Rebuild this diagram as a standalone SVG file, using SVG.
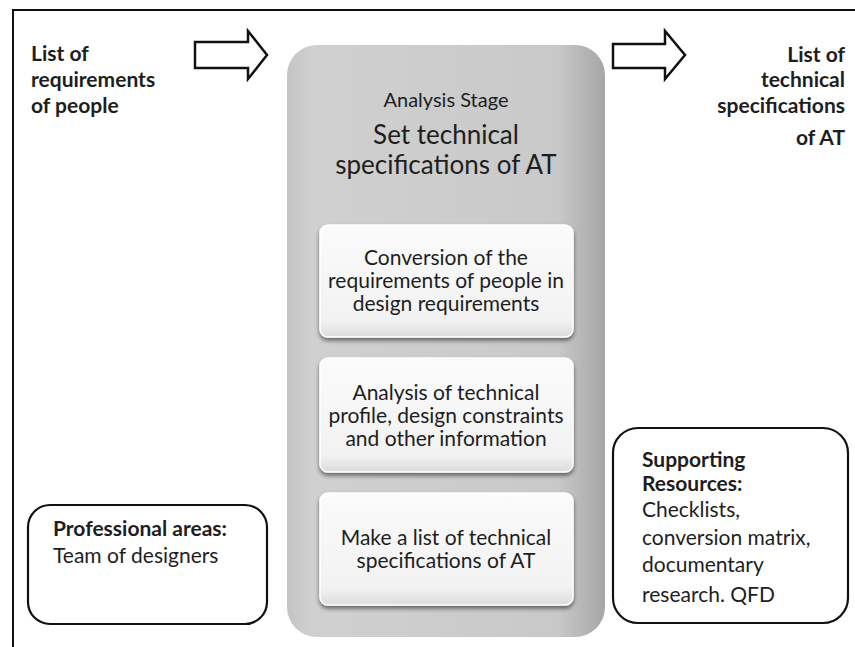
<svg xmlns="http://www.w3.org/2000/svg" width="855" height="647" viewBox="0 0 855 647">
<style>
  text { font-family: Lato, "Liberation Sans", sans-serif; fill: #1e1e1e; }
  .b { font-weight: bold; }
  .lbl { font-size: 21px; }
  .inner { font-size: 21px; text-anchor: middle; }
  .box { fill: #ffffff; stroke: #111; stroke-width: 2.2; }
  .arrow { fill: #ffffff; stroke: #111; stroke-width: 2.5; stroke-linejoin: miter; }
  .step { fill: url(#stepFill); stroke: #ffffff; stroke-width: 1.5; }
</style>
<defs>
  <linearGradient id="grayFill" x1="0" y1="0" x2="1" y2="0">
    <stop offset="0" stop-color="#c4c4c4"/>
    <stop offset="0.08" stop-color="#d0d0d0"/>
    <stop offset="0.85" stop-color="#c9c9c9"/>
    <stop offset="1" stop-color="#a6a6a6"/>
  </linearGradient>
  <linearGradient id="stepFill" x1="0" y1="0" x2="0" y2="1">
    <stop offset="0" stop-color="#fbfbfb"/>
    <stop offset="0.85" stop-color="#f2f2f2"/>
    <stop offset="1" stop-color="#dcdcdc"/>
  </linearGradient>
  <filter id="sh" x="-10%" y="-10%" width="120%" height="130%">
    <feGaussianBlur in="SourceAlpha" stdDeviation="2"/>
    <feOffset dx="0" dy="3" result="o"/>
    <feComponentTransfer><feFuncA type="linear" slope="0.5"/></feComponentTransfer>
    <feMerge><feMergeNode/><feMergeNode in="SourceGraphic"/></feMerge>
  </filter>
</defs>
<rect width="855" height="647" fill="#ffffff"/>
<g id="frame">
  <line x1="13" y1="10" x2="855" y2="10" stroke="#111" stroke-width="2"/>
  <line x1="13" y1="9" x2="13" y2="647" stroke="#111" stroke-width="2"/>
</g>
<g id="input-list">
  <text class="lbl b" x="31" y="61">List of</text>
  <text class="lbl b" x="31" y="87">requirements</text>
  <text class="lbl b" x="31" y="113">of people</text>
</g>
<g id="output-list">
  <text class="lbl b" x="845" y="62" text-anchor="end">List of</text>
  <text class="lbl b" x="845" y="87" text-anchor="end">technical</text>
  <text class="lbl b" x="845" y="113" text-anchor="end">specifications</text>
  <text class="lbl b" x="845" y="145" text-anchor="end">of AT</text>
</g>
<g id="connectors">
  <polygon class="arrow" points="195,42 248,42 248,31 267,55 248,79 248,68 195,68"/>
  <polygon class="arrow" points="613,44 665,44 665,31 685,55 665,79 665,68 613,68"/>
</g>
<g id="analysis-stage">
  <rect x="287" y="45" width="318" height="592" rx="30" fill="url(#grayFill)"/>
  <text x="446" y="107" font-size="20" text-anchor="middle">Analysis Stage</text>
  <text x="446" y="144" font-size="26" text-anchor="middle">Set technical</text>
  <text x="446" y="174" font-size="26" text-anchor="middle">specifications of AT</text>
</g>
<g id="step1">
  <rect class="step" x="320" y="225" width="253" height="112" rx="8" filter="url(#sh)"/>
  <text class="inner" x="446" y="265">Conversion of the</text>
  <text class="inner" x="446" y="288">requirements of people in</text>
  <text class="inner" x="446" y="311">design requirements</text>
</g>
<g id="step2">
  <rect class="step" x="320" y="358" width="253" height="114" rx="8" filter="url(#sh)"/>
  <text class="inner" x="446" y="400">Analysis of technical</text>
  <text class="inner" x="446" y="423">profile, design constraints</text>
  <text class="inner" x="446" y="446">and other information</text>
</g>
<g id="step3">
  <rect class="step" x="320" y="493" width="253" height="112" rx="8" filter="url(#sh)"/>
  <text class="inner" x="446" y="545">Make a list of technical</text>
  <text class="inner" x="446" y="568">specifications of AT</text>
</g>
<g id="professional-areas">
  <rect class="box" x="28" y="505" width="239" height="119" rx="22"/>
  <text class="lbl b" x="53" y="536">Professional areas:</text>
  <text class="lbl" x="53" y="563">Team of designers</text>
</g>
<g id="supporting-resources">
  <rect class="box" x="613" y="428" width="235" height="195" rx="25"/>
  <text class="lbl b" x="642" y="467">Supporting</text>
  <text class="lbl b" x="642" y="491">Resources:</text>
  <text class="lbl" x="642" y="517">Checklists,</text>
  <text class="lbl" x="642" y="545">conversion matrix,</text>
  <text class="lbl" x="642" y="572">documentary</text>
  <text class="lbl" x="642" y="602">research. QFD</text>
</g>
</svg>
